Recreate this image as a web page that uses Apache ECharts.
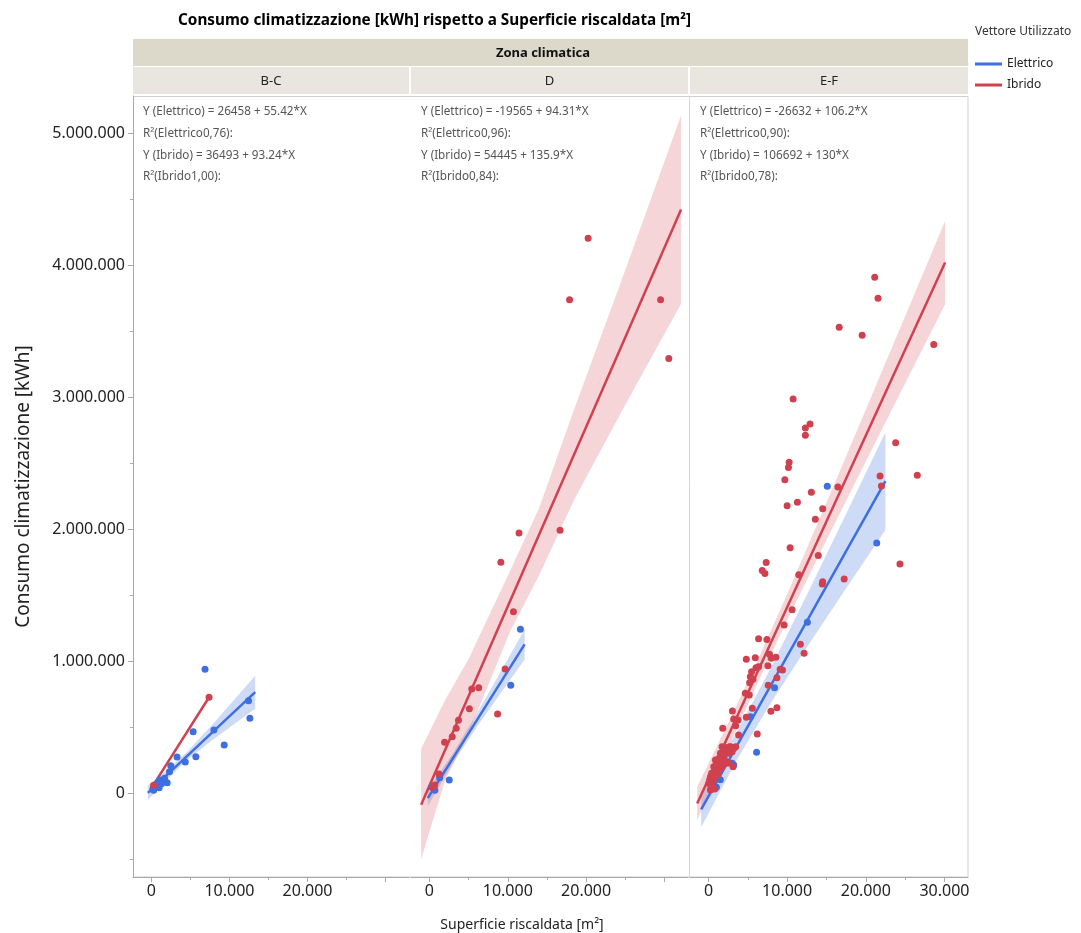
<!DOCTYPE html>
<html><head><meta charset="utf-8">
<script src="https://cdn.jsdelivr.net/npm/echarts@6/dist/echarts.min.js"></script>
<style>html,body{margin:0;padding:0;background:#fff}#c{width:1081px;height:933px}</style>
</head><body><div id="c"></div>
<script>
// ---------------- DATA ----------------
const panels = ['B-C', 'D', 'E-F'];
const seriesNames = ['Elettrico', 'Ibrido'];
const yTickValues = [0, 1000000, 2000000, 3000000, 4000000, 5000000];
const yMinorTickValues = [-500000, 500000, 1500000, 2500000, 3500000, 4500000];
const xTickValues = [0, 10000, 20000, 30000];
const xMinorTickValues = [5000, 15000, 25000];
const xLabelValuesBC = [0, 10000, 20000];
const xLabelValuesD = [0, 10000, 20000];
const xLabelValuesEF = [0, 10000, 20000, 30000];

// scatter points [superficie m², consumo kWh]
const elettricoBC = [[6875,937000],[12445,699000],[12620,566000],[8015,477000],[5355,464000],[9330,364000],[3290,273000],[5700,275000],[4345,235000],[2490,207000],[2320,161000],[2025,78000],[1690,111000],[1055,98000],[600,45000],[300,20000],[1000,40000],[800,75000],[200,30000],[1300,70000],[500,60000]];
const ibridoBC = [[290,58000],[7390,725000]];

const elettricoD = [[11610,1240000],[10380,816000],[2530,98000],[1300,116000],[545,36000],[300,45000],[700,20000]];
const ibridoD = [[11435,1970000],[16670,1990000],[9115,1748000],[10720,1374000],[9660,939000],[8700,599000],[5405,788000],[6290,798000],[5100,639000],[3710,551000],[3420,490000],[2910,427000],[1940,384000],[1225,144000],[670,61000],[420,43000],[20255,4202000],[17885,3737000],[29500,3737000],[30550,3292000]];

const elettricoEF = [[15105,2324000],[21395,1894000],[12570,1293000],[8400,798000],[5320,578000],[6115,308000],[3205,212000],[3000,225000],[1100,124000],[885,48000],[1010,43000],[600,60000],[300,30000],[1500,100000]];
const ibridoEF = [[21140,3907000],[21560,3748000],[16620,3528000],[19540,3467000],[28650,3398000],[10760,2985000],[12915,2796000],[12320,2765000],[12320,2710000],[10255,2505000],[10170,2465000],[9710,2374000],[16460,2318000],[13080,2278000],[10000,2177000],[11305,2202000],[14520,2154000],[13585,2073000],[23800,2653000],[21815,2402000],[21990,2326000],[26550,2407000],[10380,1858000],[13965,1799000],[7340,1746000],[6835,1686000],[7175,1663000],[11480,1653000],[14520,1601000],[14470,1583000],[17255,1621000],[24345,1735000],[10635,1389000],[9620,1273000],[6370,1169000],[7430,1163000],[11685,1127000],[12155,1058000],[4810,1013000],[5950,1025000],[7760,1051000],[7975,1020000],[8570,1028000],[7560,964000],[6370,957000],[6040,949000],[5485,919000],[5320,881000],[5660,861000],[5230,836000],[9115,937000],[9410,932000],[8700,874000],[7595,816000],[4685,755000],[5190,742000],[7935,619000],[8700,646000],[5570,642000],[4810,573000],[3040,621000],[3205,561000],[3760,553000],[3460,510000],[1810,490000],[3835,439000],[6200,447000],[1900,345000],[2150,345000],[2700,350000],[3040,345000],[3460,351000],[1600,300000],[1940,275000],[2360,338000],[2785,351000],[3205,338000],[3000,313000],[2570,301000],[2150,301000],[1730,351000],[1520,301000],[885,250000],[1305,262000],[1730,250000],[1520,225000],[1305,199000],[1100,174000],[885,149000],[670,98000],[465,48000],[253,23000],[40,73000],[253,124000],[3125,199000],[1520,187000],[2360,225000],[670,199000],[2150,237000],[1730,199000],[400,150000],[150,100000],[600,120000],[1000,220000],[300,60000],[800,30000],[1200,140000],[2000,260000],[2600,230000]];

// regression fits: intercept, slope, x range
const fitIntercept = { BC: [26458, 36493], D: [-19565, 54445], EF: [-26632, 106692] };
const fitSlope = { BC: [55.42, 93.24], D: [94.31, 135.9], EF: [106.2, 130] };
const fitRange = { BC: [[-450, 13300], [290, 7390]], D: [[-210, 12150], [-1055, 32120]], EF: [[-925, 22500], [-1435, 30090]] };
const fitR2 = { BC: ['0,76', '1,00'], D: ['0,96', '0,84'], EF: ['0,90', '0,78'] };

// confidence bands [x, lower, upper]
const bandElettricoBC = [[-450,-53000,57000],[2000,102000,172000],[4500,246000,306000],[8000,410000,530000],[13300,638000,888000]];
const bandElettricoD = [[-210,-99000,21000],[3000,225000,301000],[6000,496000,596000],[9000,749000,909000],[12150,1011000,1241000]];
const bandIbridoD = [[-1055,-500000,335000],[2000,95000,705000],[5000,453000,1015000],[10225,1214000,1674000],[14000,1650000,2160000],[18470,2221000,2907000],[25000,2941000,3963000],[32120,3706000,5134000]];
const bandElettricoEF = [[-925,-259000,9000],[3500,240000,450000],[8000,689000,957000],[13000,1147000,1561000],[18000,1594000,2176000],[22500,1993000,2733000]];
const bandIbridoEF = [[-1435,-207000,47000],[3000,404000,590000],[6000,802000,972000],[10000,1308000,1506000],[15000,1915000,2199000],[20000,2511000,2903000],[25000,3103000,3611000],[30090,3703000,4333000]];

// ---------------- CHART ----------------
const BLUE = '#3d6fe0', RED = '#d0414f';
const BLUE_BAND = 'rgba(61,111,224,0.25)', RED_BAND = 'rgba(208,65,79,0.22)';
const FONT = 'Noto Sans';
const fmt = v => String(Math.round(v)).replace(/\B(?=(\d{3})+(?!\d))/g, '.');

const gridLefts = [133, 411, 690], gridWidths = [276, 277, 278];
const GTOP = 96, GH = 781;
const X_MIN = -2350, X_MAX = 33000, Y_MIN = -636364, Y_MAX = 5280303;

const keys = ['BC', 'D', 'EF'];
const scatterData = { BC: [elettricoBC, ibridoBC], D: [elettricoD, ibridoD], EF: [elettricoEF, ibridoEF] };
const bandData = { BC: [bandElettricoBC, null], D: [bandElettricoD, bandIbridoD], EF: [bandElettricoEF, bandIbridoEF] };
const xLabelVals = [xLabelValuesBC, xLabelValuesD, xLabelValuesEF];
const colors = [BLUE, RED], bandColors = [BLUE_BAND, RED_BAND];

const grid = gridLefts.map((l, i) => ({ left: l, width: gridWidths[i], top: GTOP, height: GH }));
const xAxis = [], yAxis = [];
keys.forEach((k, i) => {
  xAxis.push({ type: 'value', gridIndex: i, min: X_MIN, max: X_MAX, position: 'bottom',
    axisLine: { show: true, onZero: false, lineStyle: { color: '#a8a8a8' } },
    axisTick: { show: true, length: 5, customValues: xTickValues, lineStyle: { color: '#a8a8a8' } },
    axisLabel: { customValues: xLabelVals[i], formatter: fmt, fontSize: 16, color: '#222', fontFamily: FONT, margin: 6 },
    splitLine: { show: false } });
});
keys.forEach((k, i) => {
  xAxis.push({ type: 'value', gridIndex: i, min: X_MIN, max: X_MAX, position: 'bottom',
    axisLine: { show: false, onZero: false },
    axisTick: { show: true, length: 3, customValues: xMinorTickValues, lineStyle: { color: '#a8a8a8' } },
    axisLabel: { show: false }, splitLine: { show: false } });
});
keys.forEach((k, i) => {
  yAxis.push({ type: 'value', gridIndex: i, min: Y_MIN, max: Y_MAX, show: i === 0, position: 'left',
    name: i === 0 ? 'Consumo climatizzazione [kWh]' : '', nameLocation: 'middle', nameGap: 100,
    nameTextStyle: { fontSize: 19, color: '#222', fontFamily: FONT },
    axisLine: { show: true, onZero: false, lineStyle: { color: '#a8a8a8' } },
    axisTick: { show: true, length: 5, customValues: yTickValues, lineStyle: { color: '#a8a8a8' } },
    axisLabel: { customValues: yTickValues, formatter: fmt, fontSize: 16, color: '#222', fontFamily: FONT, margin: 8 },
    splitLine: { show: false } });
});
yAxis.push({ type: 'value', gridIndex: 0, min: Y_MIN, max: Y_MAX, position: 'left',
  axisLine: { show: false, onZero: false },
  axisTick: { show: true, length: 3, customValues: yMinorTickValues, lineStyle: { color: '#a8a8a8' } },
  axisLabel: { show: false }, splitLine: { show: false } });

const series = [];
// fit lines
keys.forEach((k, i) => {
  [0, 1].forEach(s => {
    const a = fitIntercept[k][s], b = fitSlope[k][s], r = fitRange[k][s];
    series.push({ type: 'line', name: seriesNames[s], xAxisIndex: i, yAxisIndex: i, z: 3,
      color: colors[s], showSymbol: false, silent: true,
      lineStyle: { width: 2.5, color: colors[s] },
      data: [[r[0], a + b * r[0]], [r[1], a + b * r[1]]] });
  });
});
// bands
keys.forEach((k, i) => {
  [0, 1].forEach(s => {
    const band = bandData[k][s];
    if (!band) return;
    series.push({ type: 'custom', name: seriesNames[s], xAxisIndex: i, yAxisIndex: i, z: 1, silent: true,
      color: colors[s], data: band, encode: { x: 0, y: [1, 2] },
      renderItem: (params, api) => {
        if (params.dataIndex !== 0) return null;
        const up = band.map(b => api.coord([b[0], b[2]]));
        const lo = band.map(b => api.coord([b[0], b[1]])).reverse();
        return { type: 'polygon', shape: { points: up.concat(lo) }, style: { fill: bandColors[s] } };
      } });
  });
});
// scatters
keys.forEach((k, i) => {
  [0, 1].forEach(s => {
    series.push({ type: 'scatter', name: seriesNames[s], xAxisIndex: i, yAxisIndex: i, z: 4 + s,
      color: colors[s], symbolSize: 7, itemStyle: { color: colors[s], opacity: 1 },
      data: scatterData[k][s] });
  });
});

// graphics: strips, frame, annotations
const graphic = [];
graphic.push({ type: 'rect', shape: { x: 133, y: 39, width: 835, height: 27 }, style: { fill: '#dcd9cb' }, z: 0 });
graphic.push({ type: 'text', x: 543, y: 53, style: { text: 'Zona climatica', font: 'bold 13px "' + FONT + '"', fill: '#111', textAlign: 'center', textVerticalAlign: 'middle' } });
gridLefts.forEach((l, i) => {
  graphic.push({ type: 'rect', shape: { x: l, y: 67, width: gridWidths[i], height: 27 }, style: { fill: '#e8e6de' }, z: 0 });
  graphic.push({ type: 'text', x: l + gridWidths[i] / 2, y: 81, style: { text: panels[i], font: '13px "' + FONT + '"', fill: '#222', textAlign: 'center', textVerticalAlign: 'middle' } });
  const k = keys[i];
  const lines = [
    'Y (Elettrico) = ' + fitIntercept[k][0] + ' + ' + fitSlope[k][0] + '*X',
    'R²(Elettrico' + fitR2[k][0] + '):',
    'Y (Ibrido) = ' + fitIntercept[k][1] + ' + ' + fitSlope[k][1] + '*X',
    'R²(Ibrido' + fitR2[k][1] + '):'
  ];
  lines.forEach((t, j) => {
    graphic.push({ type: 'text', x: l + 10, y: 112 + j * 21.7, style: { text: t, font: '11.7px "' + FONT + '"', fill: '#555', textAlign: 'left', textVerticalAlign: 'middle' } });
  });
});
graphic.push({ type: 'rect', shape: { x: 133.5, y: 96.5, width: 834.5, height: 780.5 }, style: { fill: 'none', stroke: '#cfcfcf', lineWidth: 1 }, z: -1 });
graphic.push({ type: 'line', shape: { x1: 689.5, y1: 96, x2: 689.5, y2: 877 }, style: { stroke: '#d6d6d6', lineWidth: 1 }, z: -1 });
graphic.push({ type: 'text', x: 522, y: 925, style: { text: 'Superficie riscaldata [m²]', font: '14px "' + FONT + '"', fill: '#222', textAlign: 'center', textVerticalAlign: 'middle' } });
graphic.push({ type: 'text', x: 975, y: 32, style: { text: 'Vettore Utilizzato', font: '12px "' + FONT + '"', fill: '#333', textAlign: 'left', textVerticalAlign: 'middle' } });

const chart = echarts.init(document.getElementById('c'), null, { renderer: 'canvas' });
chart.setOption({
  backgroundColor: '#fff',
  animation: false,
  textStyle: { fontFamily: FONT },
  title: { text: 'Consumo climatizzazione [kWh] rispetto a Superficie riscaldata [m²]', left: 173, top: 8,
    textStyle: { fontSize: 15.3, fontWeight: 'bold', color: '#000', fontFamily: FONT } },
  legend: { orient: 'vertical', left: 970, top: 53, icon: 'rect', itemWidth: 27, itemHeight: 3, itemGap: 9,
    data: seriesNames, textStyle: { fontSize: 12, color: '#222', fontFamily: FONT } },
  grid, xAxis, yAxis, series, graphic
});
</script></body></html>
